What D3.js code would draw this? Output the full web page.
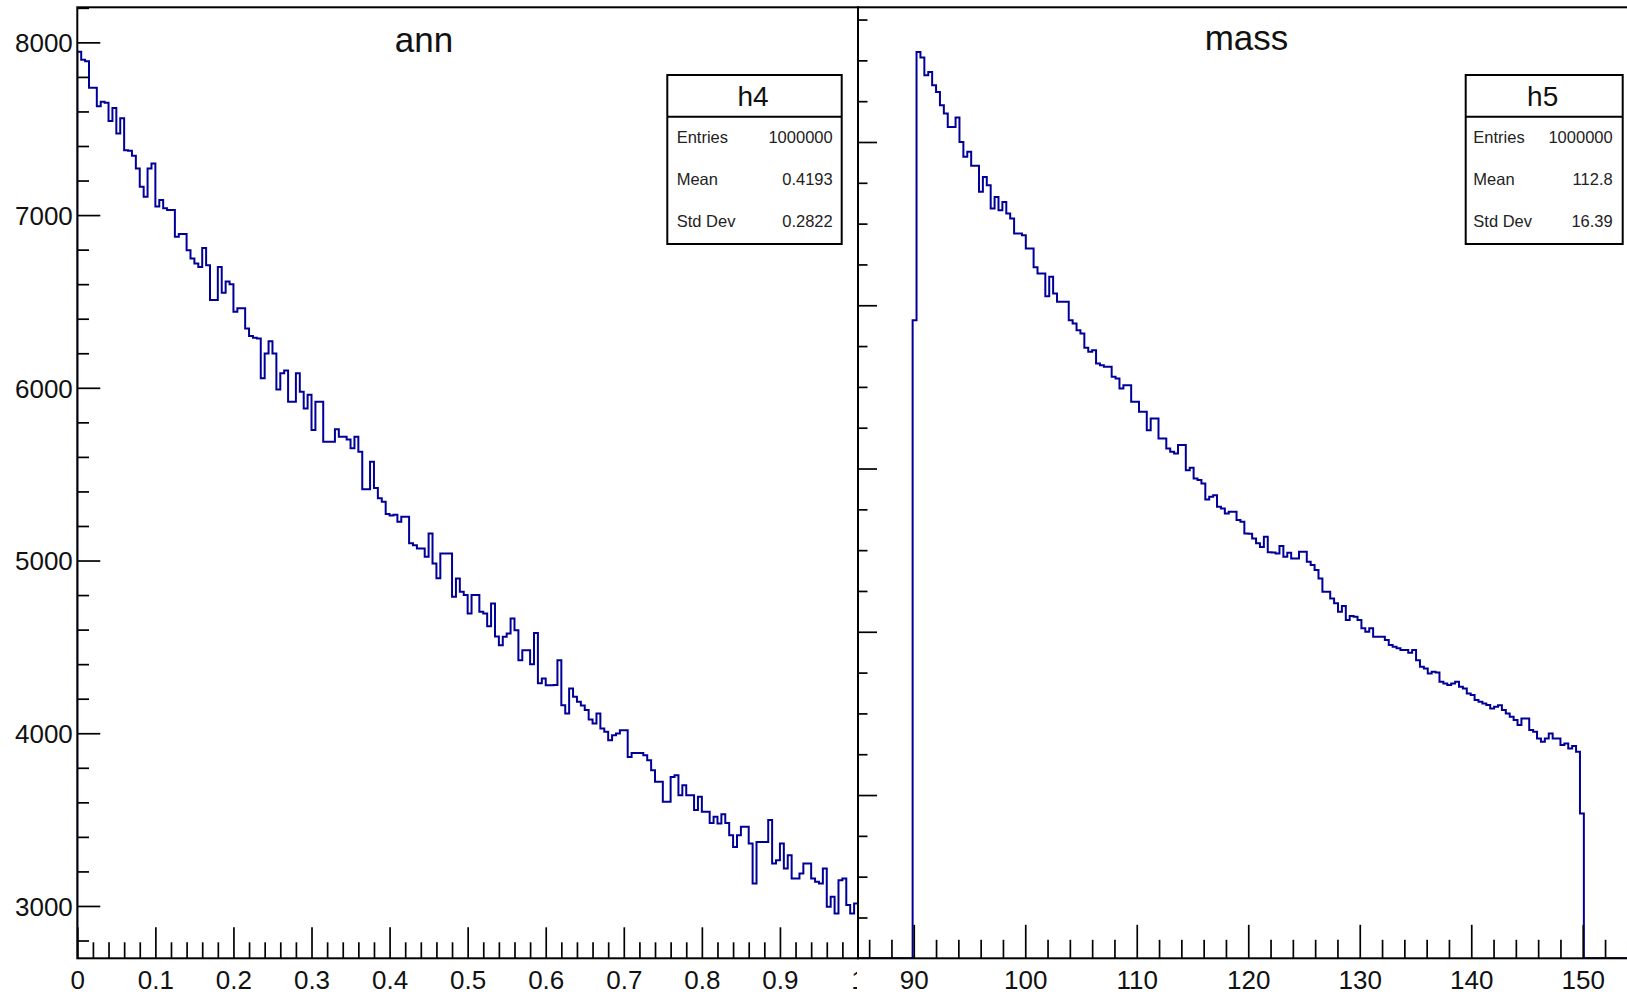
<!DOCTYPE html>
<html>
<head>
<meta charset="utf-8">
<script src="https://cdn.jsdelivr.net/npm/d3@7"></script>
<style>
  html, body { margin: 0; padding: 0; background: #fff; }
  svg { display: block; font-family: "Liberation Sans", Arial, Helvetica, sans-serif; }
</style>
</head>
<body>
<svg id="chart" width="1627" height="995"></svg>
<script>
// ---------- h4 : "ann", 200 bins on [0, 1] ----------
const annRange = [0, 1];
const annCounts = [
  7946, 7900, 7890, 7737, 7737, 7630, 7656, 7650, 7545, 7620,
  7473, 7560, 7376, 7372, 7344, 7270, 7164, 7106, 7270, 7299,
  7050, 7087, 7039, 7030, 7029, 6874, 6890, 6890, 6797, 6749,
  6720, 6700, 6810, 6710, 6508, 6508, 6700, 6550, 6616, 6600,
  6440, 6460, 6460, 6344, 6300, 6290, 6286, 6055, 6199, 6270,
  6199, 5990, 6084, 6100, 5919, 5919, 6084, 5977, 5880, 5960,
  5755, 5919, 5919, 5688, 5688, 5688, 5760, 5717, 5717, 5700,
  5650, 5717, 5630, 5412, 5412, 5572, 5420, 5360, 5340, 5270,
  5260, 5265, 5224, 5253, 5253, 5100, 5089, 5070, 5070, 5022,
  5157, 4983, 4897, 5041, 5041, 5041, 4790, 4896, 4819, 4800,
  4694, 4800, 4800, 4703, 4694, 4620, 4751, 4560, 4510, 4558,
  4578, 4665, 4597, 4423, 4480, 4480, 4400, 4580, 4290, 4317,
  4278, 4278, 4280, 4423, 4162, 4114, 4259, 4211, 4182, 4160,
  4134, 4080, 4056, 4114, 4027, 4008, 3960, 3989, 3998, 4018,
  4018, 3863, 3886, 3886, 3886, 3873, 3844, 3786, 3719, 3719,
  3603, 3603, 3747, 3757, 3641, 3699, 3641, 3641, 3555, 3632,
  3545, 3545, 3481, 3516, 3477, 3531, 3480, 3410, 3342, 3410,
  3458, 3458, 3362, 3130, 3371, 3371, 3371, 3497, 3246, 3265,
  3362, 3217, 3294, 3159, 3159, 3188, 3246, 3246, 3159, 3140,
  3130, 3217, 2995, 3053, 2956, 3149, 3159, 3005, 2956, 3014
];
const annYDomain = [2697, 8203];
const annXTicks = [0, 0.1, 0.2, 0.3, 0.4, 0.5, 0.6, 0.7, 0.8, 0.9, 1];
const annYTicks = [3000, 4000, 5000, 6000, 7000, 8000];

// ---------- h5 : "mass", 200 bins on [85, 155] ----------
const massRange = [85, 155];
const massCounts = [
  0, 0, 0, 0, 0, 0, 0, 0, 0, 0,
  0, 0, 0, 0, 7817, 11103, 11034, 10818, 10858, 10696,
  10613, 10450, 10349, 10185, 10185, 10300, 10001, 9818, 9879, 9708,
  9708, 9389, 9572, 9470, 9185, 9327, 9164, 9266, 9124, 9063,
  8879, 8879, 8859, 8695, 8695, 8466, 8389, 8389, 8111, 8350,
  8144, 8042, 8042, 8042, 7817, 7777, 7695, 7654, 7480, 7430,
  7450, 7287, 7266, 7246, 7246, 7124, 7103, 6981, 7021, 7021,
  6817, 6817, 6695, 6695, 6470, 6613, 6613, 6368, 6368, 6246,
  6205, 6185, 6287, 6287, 5980, 6010, 5878, 5858, 5817, 5620,
  5654, 5674, 5531, 5511, 5450, 5470, 5470, 5368, 5348, 5205,
  5200, 5144, 5083, 5040, 5164, 4975, 4970, 4960, 5050, 4919,
  4968, 4899, 4899, 4981, 4981, 4858, 4817, 4756, 4654, 4491,
  4491, 4409, 4348, 4246, 4315, 4144, 4193, 4185, 4144, 4042,
  4001, 4042, 3940, 3940, 3940, 3899, 3838, 3817, 3797, 3776,
  3776, 3744, 3776, 3650, 3571, 3551, 3490, 3510, 3500, 3388,
  3367, 3347, 3367, 3388, 3326, 3306, 3245, 3224, 3163, 3143,
  3122, 3102, 3061, 3082, 3100, 3041, 3000, 2959, 2918, 2857,
  2939, 2939, 2796, 2775, 2694, 2653, 2694, 2755, 2694, 2694,
  2612, 2632, 2571, 2600, 2530, 1775, 0, 0, 0, 0,
  0, 0, 0, 0, 0, 0, 0, 0, 0, 0
];
const massYDomain = [0, 11650];
const massXTicks = [90, 100, 110, 120, 130, 140, 150];
const massYTicks = [2000, 4000, 6000, 8000, 10000];

// ---------- statistics boxes ----------
const statLabels = ["Entries", "Mean", "Std Dev"];
const h4Stats = ["1000000", "0.4193", "0.2822"];
const h5Stats = ["1000000", "112.8", "16.39"];

// ---------- layout ----------
const svg = d3.select("#chart");
const frameTop = 7.3, frameBottom = 958.3;
const split = 858;
const lineColor = "#000099";
const ink = "#111";

const xL = d3.scaleLinear().domain(annRange).range([77.3, split]);
const yL = d3.scaleLinear().domain(annYDomain).range([frameBottom, frameTop]);
const xR = d3.scaleLinear().domain(massRange).range([split, 1638.5]);
const yR = d3.scaleLinear().domain(massYDomain).range([frameBottom, frameTop]);

svg.append("rect").attr("width", 1627).attr("height", 995).attr("fill", "#fff");

const defs = svg.append("defs");
function clip(id, x, y, w, h) {
  defs.append("clipPath").attr("id", id)
    .append("rect").attr("x", x).attr("y", y).attr("width", w).attr("height", h);
}
clip("frameL", xL.range()[0], frameTop, split - xL.range()[0], frameBottom - frameTop);
clip("frameR", split, frameTop, 1638.5 - split, frameBottom - frameTop);
clip("padL", 0, 0, split - 1, 995);
clip("padR", split, 0, 1627 - split, 995);

// Step outline of a fixed-width-bin histogram
function outline(counts, range, x, y, base) {
  const n = counts.length, w = (range[1] - range[0]) / n;
  const pts = [[range[0], base]];
  counts.forEach((c, i) => {
    pts.push([range[0] + i * w, c]);
    pts.push([range[0] + (i + 1) * w, c]);
  });
  pts.push([range[1], base]);
  return d3.line().x(d => x(d[0])).y(d => y(d[1]))(pts);
}

svg.append("path")
  .attr("clip-path", "url(#frameL)")
  .attr("d", outline(annCounts, annRange, xL, yL, annYDomain[0]))
  .attr("fill", "none").attr("stroke", lineColor).attr("stroke-width", 2)
  .attr("stroke-linejoin", "miter");

svg.append("path")
  .attr("clip-path", "url(#frameR)")
  .attr("d", outline(massCounts, massRange, xR, yR, massYDomain[0]))
  .attr("fill", "none").attr("stroke", lineColor).attr("stroke-width", 2)
  .attr("stroke-linejoin", "miter");

// ---------- axes ----------
function styleAxis(g, fontSize) {
  g.select(".domain").remove();
  g.attr("font-family", null).attr("font-size", null);
  g.selectAll(".tick line").attr("stroke", "#000").attr("stroke-width", 1.7);
  g.selectAll(".tick text").attr("fill", ink).attr("font-size", fontSize);
}
function minorValues(lo, hi, step, majors) {
  return d3.range(lo, hi + step / 2, step)
    .map(v => +v.toFixed(6))
    .filter(v => !majors.some(m => Math.abs(m - v) < 1e-9));
}

const padL = svg.append("g").attr("clip-path", "url(#padL)");
const padR = svg.append("g").attr("clip-path", "url(#padR)");

// left pad, x axis
padL.append("g").attr("transform", `translate(0,${frameBottom})`)
  .call(d3.axisBottom(xL).tickValues(minorValues(0, 1, 0.02, annXTicks))
    .tickSizeInner(-16).tickSizeOuter(0).tickFormat(""))
  .call(g => styleAxis(g, 26));
padL.append("g").attr("transform", `translate(0,${frameBottom})`)
  .call(d3.axisBottom(xL).tickValues(annXTicks)
    .tickSizeInner(-31).tickSizeOuter(0).tickPadding(12).tickFormat(d => String(d)))
  .call(g => styleAxis(g, 26));

// left pad, y axis
padL.append("g").attr("transform", `translate(${xL.range()[0]},0)`)
  .call(d3.axisLeft(yL).tickValues(minorValues(2800, 8200, 200, annYTicks))
    .tickSizeInner(-11.7).tickSizeOuter(0).tickFormat(""))
  .call(g => styleAxis(g, 26));
padL.append("g").attr("transform", `translate(${xL.range()[0]},0)`)
  .call(d3.axisLeft(yL).tickValues(annYTicks)
    .tickSizeInner(-23).tickSizeOuter(0).tickPadding(4.5).tickFormat(d => String(d)))
  .call(g => styleAxis(g, 26))
  .call(g => g.selectAll(".tick text").attr("dy", "0.36em"));

// right pad, x axis
padR.append("g").attr("transform", `translate(0,${frameBottom})`)
  .call(d3.axisBottom(xR).tickValues(minorValues(86, 154, 2, massXTicks))
    .tickSizeInner(-18.5).tickSizeOuter(0).tickFormat(""))
  .call(g => styleAxis(g, 26));
padR.append("g").attr("transform", `translate(0,${frameBottom})`)
  .call(d3.axisBottom(xR).tickValues(massXTicks)
    .tickSizeInner(-33.5).tickSizeOuter(0).tickPadding(12).tickFormat(d => String(d)))
  .call(g => styleAxis(g, 26));

// right pad, y axis (its labels fall outside the pad)
padR.append("g").attr("transform", `translate(${split},0)`)
  .call(d3.axisRight(yR).tickValues(minorValues(500, 11500, 500, massYTicks))
    .tickSizeInner(9.5).tickSizeOuter(0).tickFormat(""))
  .call(g => styleAxis(g, 26));
padR.append("g").attr("transform", `translate(${split},0)`)
  .call(d3.axisRight(yR).tickValues(massYTicks)
    .tickSizeInner(19).tickSizeOuter(0).tickFormat(""))
  .call(g => styleAxis(g, 26));

// ---------- frames ----------
svg.append("rect")
  .attr("x", xL.range()[0]).attr("y", frameTop)
  .attr("width", split - xL.range()[0]).attr("height", frameBottom - frameTop)
  .attr("fill", "none").attr("stroke", "#000").attr("stroke-width", 2);
svg.append("rect")
  .attr("x", split).attr("y", frameTop)
  .attr("width", 1638.5 - split).attr("height", frameBottom - frameTop)
  .attr("fill", "none").attr("stroke", "#000").attr("stroke-width", 2);

// ---------- titles ----------
svg.append("text").attr("x", 424).attr("y", 51.5)
  .attr("text-anchor", "middle").attr("font-size", 35).attr("fill", ink).text("ann");
svg.append("text").attr("x", 1246.5).attr("y", 49.5)
  .attr("text-anchor", "middle").attr("font-size", 35).attr("fill", ink).text("mass");

// ---------- statistics boxes ----------
function statBox(name, values, x0, x1, labelX, valueX) {
  const top = 75, bottom = 244, divider = 116.7;
  const rowY = [142.5, 184.8, 227];
  const g = svg.append("g");
  g.append("rect").attr("x", x0).attr("y", top)
    .attr("width", x1 - x0).attr("height", bottom - top)
    .attr("fill", "#fff").attr("stroke", "#000").attr("stroke-width", 2);
  g.append("line").attr("x1", x0).attr("x2", x1)
    .attr("y1", divider).attr("y2", divider)
    .attr("stroke", "#000").attr("stroke-width", 2);
  g.append("text").attr("x", (x0 + x1) / 2 - 1.5).attr("y", 106)
    .attr("text-anchor", "middle").attr("font-size", 28).attr("fill", ink).text(name);
  statLabels.forEach((lab, i) => {
    g.append("text").attr("x", labelX).attr("y", rowY[i])
      .attr("font-size", 16.5).attr("fill", "#222").text(lab);
    g.append("text").attr("x", valueX).attr("y", rowY[i])
      .attr("text-anchor", "end").attr("font-size", 16.5).attr("fill", "#222").text(values[i]);
  });
}
statBox("h4", h4Stats, 667.3, 841.7, 676.7, 832.7);
statBox("h5", h5Stats, 1465.7, 1622.7, 1473.3, 1612.7);
</script>
</body>
</html>
